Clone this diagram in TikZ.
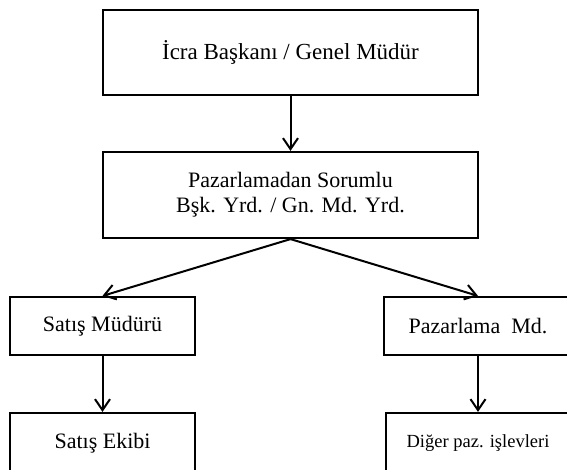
\documentclass[tikz,border=0pt]{standalone}
\usepackage{fontspec}
\setmainfont{Liberation Serif}
\usetikzlibrary{arrows.meta}
\begin{document}
\begin{tikzpicture}[x=1pt,y=-1pt,
  box/.style={draw=black, line width=2.2pt, rectangle, inner sep=0pt, align=center},
  big/.style={font=\fontsize{22}{25}\selectfont},
  link/.style={draw=black, line width=2pt, -{Straight Barb[length=11pt,width=15pt,line width=2pt]}}
]
\useasboundingbox (0,0) rectangle (567,470);
\fill[white] (0,0) rectangle (567,470);

% boxes of the chart
\node[box, minimum width=375pt, minimum height=85pt, font=\fontsize{23}{26}\selectfont]
  (ceo) at (290.5,52.5) {İcra Başkanı / Genel Müdür};
\node[box, big, minimum width=375pt, minimum height=86pt]
  (mkt) at (290.5,195) {Pazarlamadan Sorumlu\\Bşk. Yrd. / Gn. Md. Yrd.};
\node[box, big, minimum width=185pt, minimum height=58pt]
  (sales) at (102.5,326) {Satış Müdürü};
\node[box, big, minimum width=188pt, minimum height=58pt]
  (mktmgr) at (478,326) {Pazarlama\ \ Md.};
\node[box, big, minimum width=185pt, minimum height=60pt]
  (team) at (102.5,443) {Satış Ekibi};
\node[box, minimum width=184pt, minimum height=60pt, font=\fontsize{18.5}{21}\selectfont]
  (other) at (478,443) {Diğer paz. işlevleri};

% reporting lines
\draw[link] (ceo.south) -- (mkt.north);
\draw[link] (mkt.south) -- (sales.north);
\draw[link] (mkt.south) -- (mktmgr.north);
\draw[link] (sales.south) -- (team.north);
\draw[link] (mktmgr.south) -- (other.north);
\end{tikzpicture}
\end{document}
